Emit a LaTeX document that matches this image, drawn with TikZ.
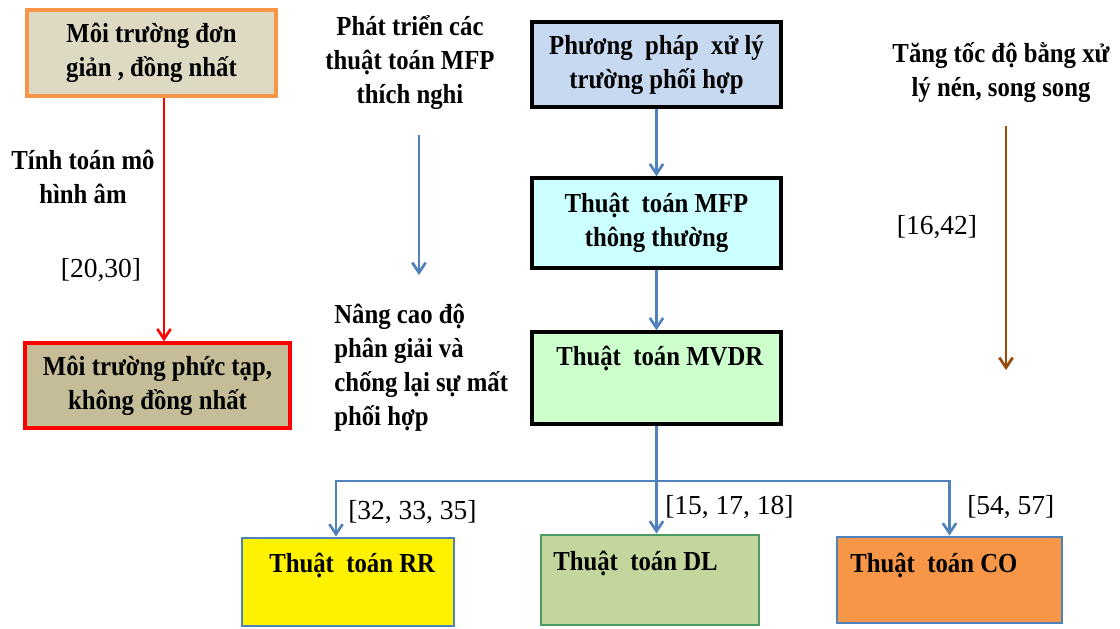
\documentclass[tikz,border=0pt]{standalone}
\usepackage{fontspec}
\setmainfont{Liberation Serif}
\newfontfamily\condserif{Liberation Serif}[FakeStretch=0.9]
\usepackage{tikz}
\usetikzlibrary{calc}
\usetikzlibrary{arrows.meta}

\definecolor{tanlight}{HTML}{DDD9C3}
\definecolor{tandark}{HTML}{C4BD97}
\definecolor{orangeline}{HTML}{F79646}
\definecolor{bluefill}{HTML}{C6D9F1}
\definecolor{cyanfill}{HTML}{CCFFFF}
\definecolor{greenfill}{HTML}{CCFFCC}
\definecolor{steel}{HTML}{4F81BD}
\definecolor{olivefill}{HTML}{C3D69B}
\definecolor{greenline}{HTML}{4B9B62}
\definecolor{brownline}{HTML}{984807}

\tikzset{
    wh/.style 2 args={minimum width=#1*0.6pt,minimum height=#2*0.6pt},
    box/.style={draw,line width=2pt,inner sep=0pt,align=center,font=\condserif\bfseries\fontsize{16.5}{20.4}\selectfont},
    txt/.style={inner sep=0pt,align=center,font=\condserif\bfseries\fontsize{16.5}{20.4}\selectfont},
    cite/.style={inner sep=0pt,font=\fontsize{16.5}{20}\selectfont},
    arr/.style={line width=1.6pt,-{Straight Barb[length=6pt,width=8pt]}}
}

\begin{document}
\begin{tikzpicture}[x=0.6pt,y=-0.6pt]
            \fill[white](0,0)rectangle(1120,628);
            \useasboundingbox(0,0)rectangle(1120,628);

            % left column
            \node[box,wh={249}{86},fill=tanlight,draw=orangeline](env1)at(151.5,53){Môi trường đơn\\giản , đồng nhất};
            \node[box,wh={265}{85},fill=tandark,draw=red](env2)at(157.5,385.5){Môi trường phức tạp,\\không đồng nhất};
            \node[txt](tinh)at(83,177){Tính toán mô\\hình âm};
            \node[cite](c1)at(101,270){[20,30]};
            \coordinate(rx)at(164,0);
            \draw[arr,red](rx|-env1.south)--(rx|-env2.north);

            % middle texts
            \node[txt](phat)at(410,63){Phát triển các\\thuật toán MFP\\thích nghi};
            \node[txt,align=left,anchor=west](nang)at(334,368){Nâng cao độ\\phân giải và\\chống lại sự mất\\phối hợp};
            \coordinate(mtop)at(419,135);
            \coordinate(mbot)at(419,275);
            \draw[arr,steel](mtop)--(mbot);

            % main column
            \node[box,wh={249}{85},fill=bluefill](pp)at(656.5,64.5){Phương\ \ pháp\ \ xử lý\\trường phối hợp};
            \node[box,wh={249}{90},fill=cyanfill](mfp)at(656.5,223){Thuật\ \ toán MFP\\thông thường};
            \node[box,wh={249}{92},fill=greenfill](mvdr)at(656.5,378){};
            \node[txt,anchor=west](tmvdr)at(556,358){Thuật\ \ toán MVDR};
            \draw[arr,steel](pp.south)--(mfp.north);
            \draw[arr,steel](mfp.south)--(mvdr.north);

            % right column
            \node[txt](tang)at(1001,73){Tăng tốc độ bằng xử\\lý nén, song song};
            \node[cite](c2)at(937,227){[16,42]};
            \coordinate(btop)at(1006,126);
            \coordinate(bbot)at(1006,370);
            \draw[arr,brownline](btop)--(bbot);

            % bottom row
            \node[box,wh={212}{88},fill=yellow,draw=steel,line width=1.7pt](rr)at(348,582){};
            \node[box,wh={218}{90},fill=olivefill,draw=greenline,line width=1.7pt](dl)at(650,580){};
            \node[box,wh={225}{86},fill=orangeline,draw=steel,line width=1.7pt](co)at(949.5,580){};
            \node[txt,anchor=west](trr)at(269,565){Thuật\ \ toán RR};
            \node[txt,anchor=west](tdl)at(553,563){Thuật\ \ toán DL};
            \node[txt,anchor=west](tco)at(850,565){Thuật\ \ toán CO};

            \coordinate(fork)at(656.5,481);
            \coordinate(rrin)at($(rr.north)+(-12,0)$);
            \draw[arr,steel](mvdr.south)--(mvdr.south|-dl.north);
            \draw[arr,steel](fork)-|(rrin);
            \draw[arr,steel](fork)-|(co.north);
            \node[cite,anchor=west](c3)at(348,512){[32, 33, 35]};
            \node[cite,anchor=west](c4)at(665,507){[15, 17, 18]};
            \node[cite,anchor=west](c5)at(967,507){[54, 57]};
        \end{tikzpicture}
\end{document}
